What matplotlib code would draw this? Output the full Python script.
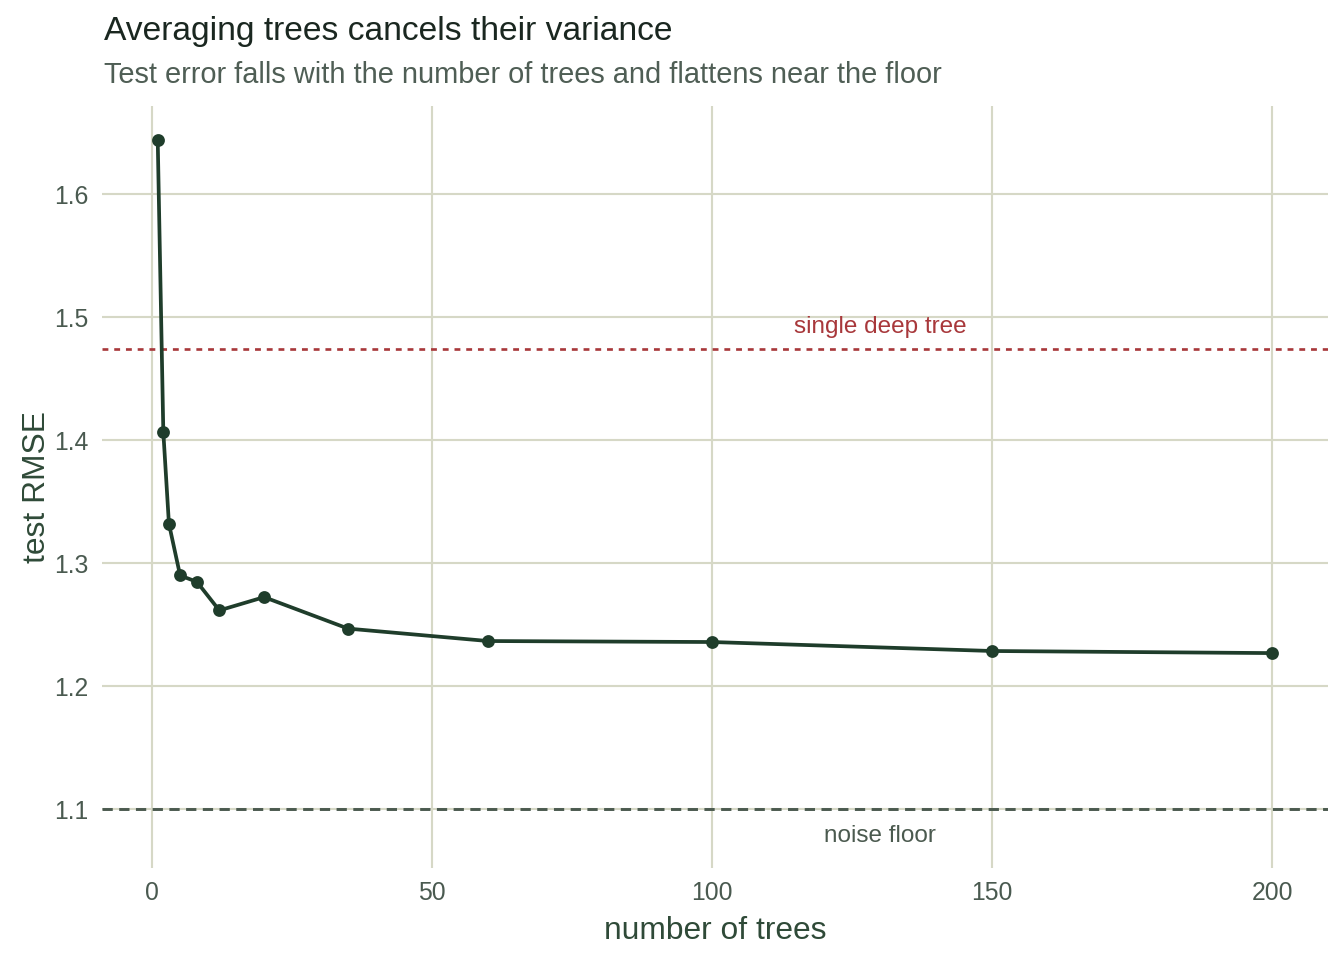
import matplotlib
matplotlib.use('Agg')
import matplotlib.pyplot as plt

# data
n_trees = [1, 2, 3, 5, 8, 12, 20, 35, 60, 100, 150, 200]
test_rmse = [1.6436, 1.4064, 1.332, 1.2899, 1.2847, 1.2615, 1.2723, 1.2467,
             1.2366, 1.2358, 1.2285, 1.2268]
single_tree_rmse = 1.474
noise_floor = 1.1
x_ticks = [0, 50, 100, 150, 200]
y_ticks = [1.1, 1.2, 1.3, 1.4, 1.5, 1.6]

plt.rcParams['font.family'] = ['Liberation Sans', 'DejaVu Sans']

line_col = '#1f3d2b'
grid_col = '#d6d8c6'
red_col = '#a8383b'
floor_col = '#4b5a4f'
tick_col = '#4a5a50'

fig = plt.figure(figsize=(7, 5), dpi=192)
ax = fig.add_axes([0.0759, 0.0961, 0.9879 - 0.0759, 0.8899 - 0.0961])

ax.set_xlim(-8.95, 209.95)
ax.set_ylim(1.0523, 1.6718)
ax.set_xticks(x_ticks)
ax.set_yticks(y_ticks)
ax.set_yticklabels(['%.1f' % v for v in y_ticks])
ax.grid(True, color=grid_col, linewidth=0.8)
ax.set_axisbelow(True)
for s in ax.spines.values():
    s.set_visible(False)
ax.tick_params(length=0, labelsize=9.3, labelcolor=tick_col)
ax.tick_params(axis='x', pad=5)
ax.tick_params(axis='y', pad=5)

# reference lines
ax.axhline(single_tree_rmse, color=red_col, linewidth=1.0, linestyle=(0, (2.2, 2.2)))
ax.axhline(noise_floor, color=floor_col, linewidth=1.1, linestyle=(0, (3.5, 2.2)))
ax.text(130, single_tree_rmse + 0.018, 'single deep tree', color=red_col,
        fontsize=9.1, ha='center', va='center')
ax.text(130, noise_floor - 0.022, 'noise floor', color=floor_col,
        fontsize=9.1, ha='center', va='center')

# RMSE curve
ax.plot(n_trees, test_rmse, color=line_col, linewidth=1.4, marker='o',
        markersize=3.8, zorder=3)

ax.set_xlabel('number of trees', fontsize=11.9, color='#2f4a38', labelpad=4)
ax.set_ylabel('test RMSE', fontsize=11.9, color='#2f4a38', labelpad=1)

fig.text(0.0774, 1 - 40 / 960, 'Averaging trees cancels their variance',
         fontsize=12.6, color='#1a2720', ha='left', va='baseline')
fig.text(0.0774, 1 - 83 / 960,
         'Test error falls with the number of trees and flattens near the floor',
         fontsize=10.9, color='#4f5e55', ha='left', va='baseline')

fig.savefig('out.png', dpi=192, facecolor='white')
